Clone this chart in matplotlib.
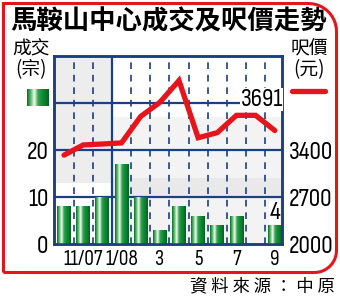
import numpy as np
import matplotlib
matplotlib.use("Agg")
import matplotlib.pyplot as plt
from matplotlib.path import Path
from matplotlib.patches import PathPatch
from matplotlib.colors import LinearSegmentedColormap

# data
months = ["10/07", "11/07", "12/07", "1/08", "2", "3", "4", "5", "6", "7", "8", "9"]
shown_ticks = ["", "11/07", "", "1/08", "", "3", "", "5", "", "7", "", "9"]
deals = [8, 8, 10, 17, 10, 3, 8, 6, 4, 6, 0, 4]
price = [3324, 3476, 3490, 3506, 3900, 4110, 4435, 3583, 3659, 3917, 3917, 3691]
left_ticks = [0, 10, 20]
right_ticks = [2000, 2700, 3400]

NAVY = "#1b3f82"
RED = "#e8141c"
num_font = ["Sofia Sans Condensed", "Liberation Sans"]
cjk = ["Noto Sans CJK TC", "DejaVu Sans"]
NFS = 18.5

fig = plt.figure(figsize=(3.4, 2.98), dpi=100)
ax = fig.add_axes([0.159, 0.181, 0.670, 0.631])
ax2 = ax.twinx()

x = np.arange(len(months))
ax.set_xlim(-0.52, 11.37)
ax.set_ylim(0, 40)
ax2.set_ylim(2000, 4800)

# background bands
ax.fill_between([-0.52, 2.5], 13, 40, color="#ededed", lw=0, zorder=0)
ax.fill_between([2.5, 11.37], 0, 27, color="#f3f3f3", lw=0, zorder=0)
ax.fill_between([2.5, 11.37], 10, 14, color="#e9e9e9", lw=0, zorder=0)

# grid
for xv in np.arange(0.5, 11, 1.0):
    if xv == 2.5:
        ax.axvline(xv, color=NAVY, lw=1.6, zorder=1)
    else:
        ax.axvline(xv, color=NAVY, lw=1.2, ls=(0, (4, 3.5)), zorder=1)
for yv in [10, 20, 30]:
    ax.axhline(yv, color=NAVY, lw=1.6, zorder=1)

# bars with striped gradient
cmap = LinearSegmentedColormap.from_list(
    "g", ["#067028", "#5dbb70", "#f2fbf2", "#3aa450", "#119038", "#0a7d2e", "#05641f"])
bars = ax.bar(x, deals, width=0.72, color="#1a8a3a", zorder=2)
grad = np.linspace(0, 1, 64).reshape(1, -1)
for b in bars:
    if b.get_height() <= 0:
        continue
    im = ax.imshow(grad, extent=[b.get_x(), b.get_x() + b.get_width(), 0, b.get_height()],
                   cmap=cmap, aspect="auto", zorder=3)
    im.set_clip_path(b)
ax.set_xlim(-0.52, 11.37)
ax.set_ylim(0, 40)

# price line
ax2.plot(x, price, color=RED, lw=3.8, solid_capstyle="round", solid_joinstyle="miter", zorder=4)

# value labels
ax2.annotate(f"{price[-1]}", (x[-1], price[-1]), xytext=(-13, 31), textcoords="offset pixels",
             ha="center", va="center", fontsize=NFS, family=num_font,
             bbox=dict(fc="white", ec="none", pad=0.2), zorder=6)
ax.annotate(f"{deals[-1]}", (x[-1], deals[-1]), xytext=(0, 13), textcoords="offset pixels",
            ha="center", va="center", fontsize=NFS, family=num_font,
            bbox=dict(fc="white", ec="none", pad=0.2), zorder=6)

# axes styling
for a in (ax, ax2):
    for s in a.spines.values():
        s.set_color(NAVY)
        s.set_linewidth(1.8)
ax.set_xticks(x)
ax.set_xticklabels(shown_ticks, family=num_font, fontsize=15.5)
ax.set_yticks(left_ticks)
ax.set_yticklabels([str(v) for v in left_ticks], family=num_font, fontsize=NFS)
ax2.set_yticks(right_ticks)
ax2.set_yticklabels([str(v) for v in right_ticks], family=num_font, fontsize=NFS)
ax.tick_params(length=0, pad=4)
ax.tick_params(axis="x", pad=4)
ax2.tick_params(length=0, pad=5)

# title and side labels
fig.text(0.495, 0.925, "馬鞍山中心成交及呎價走勢", ha="center", va="center",
         fontsize=19, fontweight="black", family=cjk)
fig.text(0.091, 0.800, "成交\n(宗)", ha="center", va="center", fontsize=13.5,
         family=cjk, linespacing=1.0)
fig.text(0.91, 0.800, "呎價\n(元)", ha="center", va="center", fontsize=13.5,
         family=cjk, linespacing=1.0)
sw = fig.add_axes([0.079, 0.643, 0.062, 0.058])
sw.imshow(grad, cmap=cmap, aspect="auto")
sw.axis("off")
fig.add_artist(plt.Line2D([0.86, 0.955], [0.695, 0.695], color=RED, lw=3.8,
                          solid_capstyle="round"))
fig.text(0.985, 0.038, "資 料 來 源 ： 中 原", ha="right", va="center", fontsize=12.5, family=cjk)

# red rounded frame (pixel coords, y from top)
L, T, R, B, r1, r2 = 3.5, 3.5, 336.5, 272.5, 28, 22
pts = [(L, B), (L, T), (R - r1, T)]
for a in np.linspace(np.pi / 2, 0, 12):
    pts.append((R - r1 + r1 * np.cos(a), T + r1 - r1 * np.sin(a)))
for a in np.linspace(0, -np.pi / 2, 12):
    pts.append((R - r2 + r2 * np.cos(a), B - r2 - r2 * np.sin(a)))
pts.append((L, B))
pts = [(px / 100, (298 - py) / 100) for px, py in pts]
fig.add_artist(PathPatch(Path(pts), fill=False, ec=RED, lw=2.2,
                         transform=fig.dpi_scale_trans))

fig.savefig("out.png", dpi=100)
